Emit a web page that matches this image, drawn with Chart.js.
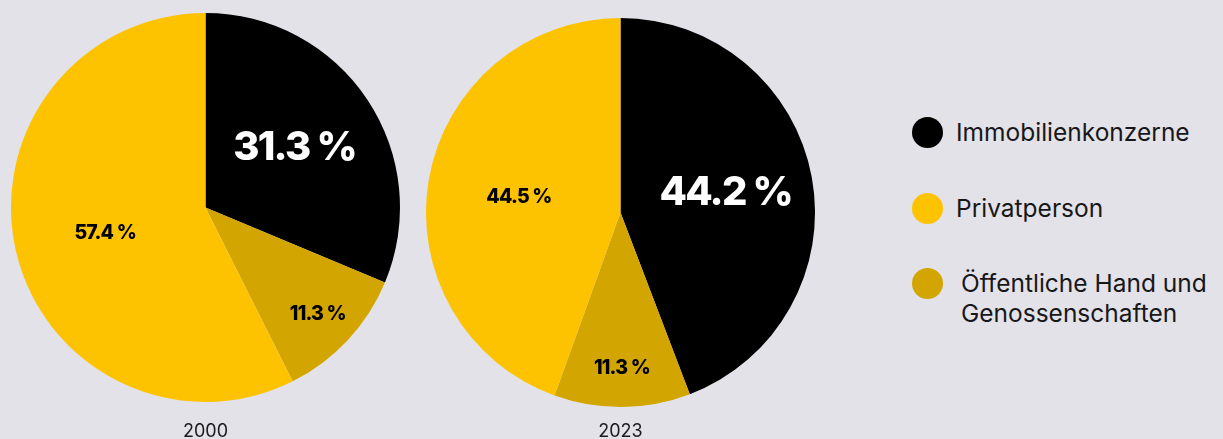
<!DOCTYPE html>
<html>
<head>
<meta charset="utf-8">
<script src="https://cdn.jsdelivr.net/npm/chart.js@4.4.1/dist/chart.umd.min.js"></script>
<style>
    html, body { margin: 0; padding: 0; background: #e3e2e8; }
    body { width: 1223px; height: 439px; position: relative; overflow: hidden; font-family: Inter, "Noto Sans", sans-serif; }
    .pie { position: absolute; top: 0; width: 412px; height: 439px; }
    #legend { position: absolute; left: 912px; top: 0; color: #17171a; font-size: 24.5px; line-height: 30px; }
    .item { position: absolute; display: flex; align-items: flex-start; white-space: nowrap; }
    .dot { width: 31px; height: 31px; border-radius: 50%; margin-right: 13px; flex: none; }
</style>
</head>
<body>
<div class="pie" style="left:0"><canvas id="pie2000"></canvas></div>
<div class="pie" style="left:415px"><canvas id="pie2023"></canvas></div>
<div id="legend"></div>
<script>
const categories = ['Immobilienkonzerne', 'Privatperson', 'Öffentliche Hand und Genossenschaften'];
const legendLines = [['Immobilienkonzerne'], ['Privatperson'], ['Öffentliche Hand und', 'Genossenschaften']];
const years = ['2000', '2023'];
// order in the pie: Immobilienkonzerne, Öffentliche Hand, Privatperson (clockwise from top)
const values2000 = [31.3, 11.3, 57.4];
const values2023 = [44.2, 11.3, 44.5];
const sliceOrder = [0, 2, 1];

const colors = ['#000000', '#fdc300', '#d2a500'];

// draws the percentage labels inside each slice
const sliceLabels = {
    id: 'sliceLabels',
    afterDatasetsDraw(chart) {
        const ctx = chart.ctx;
        const meta = chart.getDatasetMeta(0);
        const data = chart.data.datasets[0].data;
        meta.data.forEach((arc, i) => {
            const p = arc.getProps(['x', 'y', 'startAngle', 'endAngle', 'outerRadius'], true);
            const mid = (p.startAngle + p.endAngle) / 2;
            const big = sliceOrder[i] === 0;
            const f = data[i] < 20 ? 0.79 : (big ? 0.55 : 0.53);
            const x = p.x + Math.cos(mid) * p.outerRadius * f;
            const y = p.y + Math.sin(mid) * p.outerRadius * f + (big ? 0 : 2);
            ctx.save();
            ctx.font = big ? '800 40px Inter' : '800 19.5px Inter';
            ctx.letterSpacing = big ? '-1.8px' : '-0.8px';
            ctx.fillStyle = big ? '#ffffff' : '#000000';
            ctx.textAlign = 'center';
            ctx.textBaseline = 'middle';
            ctx.fillText(data[i].toFixed(1) + ' %', x, y);
            ctx.restore();
        });
    }
};

const makePie = (id, values, year, padTop, titlePad) => {
    const ctx = document.getElementById(id).getContext('2d');
    new Chart(ctx, {
        type: 'pie',
        data: {
            labels: sliceOrder.map(i => categories[i]),
            datasets: [{
                data: values,
                backgroundColor: sliceOrder.map(i => colors[i]),
                borderWidth: 0
            }]
        },
        options: {
            responsive: true,
            maintainAspectRatio: false,
            animation: false,
            layout: { padding: { top: padTop, left: 11, right: 12, bottom: 0 } },
            plugins: {
                legend: { display: false },
                tooltip: { enabled: false },
                title: {
                    display: true,
                    text: year,
                    position: 'bottom',
                    color: '#1b1b1f',
                    font: { family: 'Inter', size: 18, weight: 'normal', lineHeight: 14 / 18 },
                    padding: { top: titlePad, bottom: 0 }
                }
            }
        },
        plugins: [sliceLabels]
    });
};

makePie('pie2000', values2000, years[0], 13, 23);
makePie('pie2023', values2023, years[1], 18, 18);

// legend built from the categories
const legend = document.getElementById('legend');
const legendTops = [117, 193, 268];
categories.forEach((cat, i) => {
    const item = document.createElement('div');
    item.className = 'item';
    item.style.top = legendTops[i] + 'px';
    const dot = document.createElement('span');
    dot.className = 'dot';
    dot.style.background = colors[i];
    const text = document.createElement('span');
    text.innerHTML = legendLines[i].join('<br>');
    if (i === 2) text.style.marginLeft = '5px';
    item.appendChild(dot);
    item.appendChild(text);
    legend.appendChild(item);
});
</script>
</body>
</html>
